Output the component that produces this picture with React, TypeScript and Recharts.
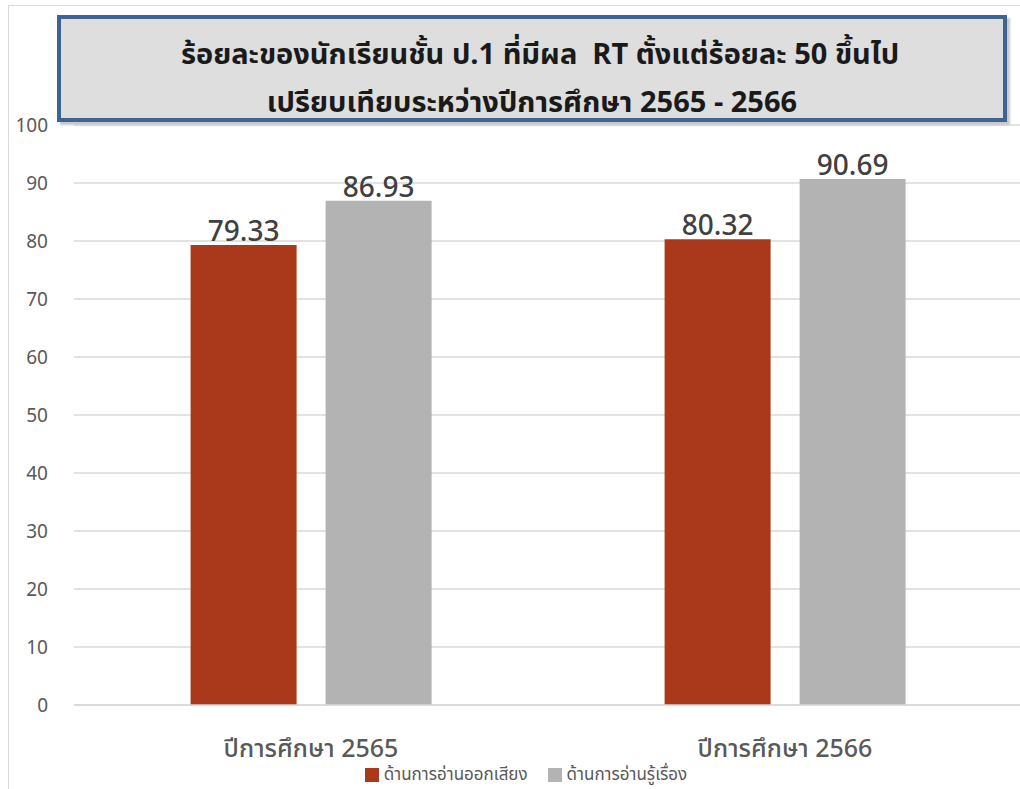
import React from 'react';
import { BarChart, Bar, XAxis, YAxis, CartesianGrid, Legend, LabelList } from 'recharts';

const years = ['ปีการศึกษา 2565', 'ปีการศึกษา 2566'];
const readAloud = [79.33, 80.32];
const readComprehension = [86.93, 90.69];
const yTicks = [0, 10, 20, 30, 40, 50, 60, 70, 80, 90, 100];
const seriesNames = ['ด้านการอ่านออกเสียง', 'ด้านการอ่านรู้เรื่อง'];
const titleLines = [
  'ร้อยละของนักเรียนชั้น ป.1 ที่มีผล  RT ตั้งแต่ร้อยละ 50 ขึ้นไป',
  'เปรียบเทียบระหว่างปีการศึกษา 2565 - 2566',
];

const data = years.map((year, i) => ({
  year,
  aloud: readAloud[i],
  comp: readComprehension[i],
}));

const FONT = "Tahoma, 'Noto Sans Thai', 'Noto Sans', sans-serif";
const RED = '#a9391a';
const GREY = '#b3b3b3';

function LegendBox() {
  const items = [
    { name: seriesNames[0], color: RED },
    { name: seriesNames[1], color: GREY },
  ];
  return (
    <div style={{ display: 'flex', justifyContent: 'center', gap: 20, fontSize: 17, color: '#595959', fontFamily: FONT, paddingLeft: 22, lineHeight: '20px' }}>
      {items.map((it) => (
        <div key={it.name} style={{ display: 'flex', alignItems: 'center', gap: 5 }}>
          <span style={{ width: 14, height: 14, background: it.color, display: 'inline-block' }} />
          <span>{it.name}</span>
        </div>
      ))}
    </div>
  );
}

export default function App() {
  return (
    <div style={{ position: 'fixed', left: 0, top: 0, width: 1020, height: 789, overflow: 'hidden', background: '#fff' }}>
      {/* outer chart border */}
      <div style={{ position: 'absolute', left: 8, top: 5, width: 1100, height: 900, border: '1.5px solid #d9d9d9' }} />

      <div style={{ position: 'absolute', left: 0, top: 0 }}>
        <BarChart
          width={1040}
          height={789}
          data={data}
          margin={{ top: 125, right: 18, left: 8, bottom: 4 }}
          barCategoryGap="24.6%"
          barGap={29}
        >
          <CartesianGrid vertical={false} stroke="#d9d9d9" strokeWidth={1.5} />
          <XAxis
            dataKey="year"
            axisLine={{ stroke: '#d9d9d9', strokeWidth: 1.5 }}
            tickLine={false}
            tickMargin={28}
            height={60}
            tick={{ fontSize: 25, fontWeight: 500, fill: '#595959', fontFamily: FONT }}
          />
          <YAxis
            width={66}
            domain={[0, 100]}
            ticks={yTicks}
            axisLine={false}
            tickLine={false}
            tickMargin={26}
            tickSize={0}
            tick={{ fontSize: 19, fill: '#595959', fontFamily: FONT }}
          />
          <Legend verticalAlign="bottom" content={() => <LegendBox />} />
          <Bar dataKey="aloud" name={seriesNames[0]} fill={RED} isAnimationActive={false}>
            <LabelList dataKey="aloud" position="top" offset={4} style={{ fontSize: 28, fontWeight: 500, fill: '#404040', fontFamily: FONT }} />
          </Bar>
          <Bar dataKey="comp" name={seriesNames[1]} fill={GREY} isAnimationActive={false}>
            <LabelList dataKey="comp" position="top" offset={4} style={{ fontSize: 28, fontWeight: 500, fill: '#404040', fontFamily: FONT }} />
          </Bar>
        </BarChart>
      </div>

      {/* title box */}
      <div
        style={{
          position: 'absolute', left: 57, top: 15, width: 950, height: 107,
          boxSizing: 'border-box', paddingTop: 12,
          border: '4px solid #3d6493', background: '#dedede',
          boxShadow: '3px 3px 2px #c8c8c8',
          display: 'flex', flexDirection: 'column', alignItems: 'center',
          fontFamily: FONT, fontWeight: 'bold', fontSize: 29, color: '#1a1a1a', lineHeight: '48px',
        }}
      >
        {titleLines.map((l, i) => (
          <div key={l} style={{ whiteSpace: 'pre', paddingLeft: i === 0 ? 16 : 0 }}>{l}</div>
        ))}
      </div>
    </div>
  );
}
